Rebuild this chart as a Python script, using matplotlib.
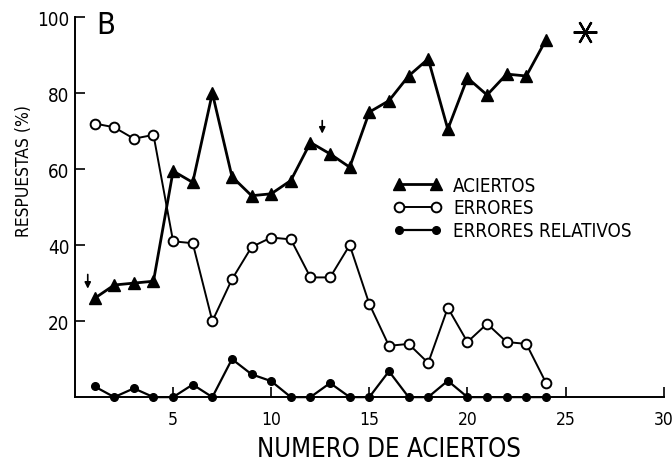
import matplotlib
matplotlib.use("Agg")
import matplotlib.pyplot as plt
import numpy as np

plt.rcParams['font.family'] = ['DejaVu Sans']
plt.rcParams['font.stretch'] = 'condensed'

# numero de aciertos (sesiones)
sesiones = np.arange(1, 25)
aciertos = [26, 29.5, 30, 30.5, 59.5, 56.5, 80, 58, 53, 53.5, 57, 67,
            64, 60.5, 75, 78, 84.5, 89, 70.5, 84, 79.5, 85, 84.5, 94]
errores = [72, 71, 68, 69, 41, 40.5, 20, 31, 39.5, 42, 41.5, 31.5,
           31.5, 40, 24.5, 13.5, 14, 9, 23.5, 14.5, 19.3, 14.5, 14, 3.8]
errores_rel = [2.8, 0, 2.3, 0, 0, 3.3, 0, 10, 6, 4.2, 0, 0,
               3.7, 0, 0, 6.8, 0, 0, 4.3, 0, 0, 0, 0, 0]

x_ticks = [5, 10, 15, 20, 25, 30]
y_ticks = [20, 40, 60, 80, 100]

# anotaciones: flechas (x, y_inicio, y_fin), asterisco, letra del panel
flechas = [(0.65, 33, 27.8), (12.6, 73.5, 68.6)]
asterisco = (26.0, 96.0)
panel = (1.1, 98.0)

fig = plt.figure(figsize=(6.72, 4.64), dpi=100)
ax = fig.add_axes([0.1116, 0.142, 0.876, 0.819])

ax.plot(sesiones, aciertos, color='black', lw=2.0, marker='^', ms=9,
        label='ACIERTOS')
ax.plot(sesiones, errores, color='black', lw=1.4, marker='o', ms=7,
        mfc='white', mec='black', mew=1.4, label='ERRORES')
ax.plot(sesiones, errores_rel, color='black', lw=1.6, marker='o', ms=5.5,
        label='ERRORES RELATIVOS', clip_on=False)

for fx, y0, y1 in flechas:
    ax.annotate('', xy=(fx, y1), xytext=(fx, y0),
                arrowprops=dict(arrowstyle='-|>', color='black', lw=1.2,
                                mutation_scale=9))

ax.plot(*asterisco, marker=(6, 2, 90), ms=17, mew=1.6, color='black')
ax.text(panel[0], panel[1], 'B', fontsize=22, va='center', ha='left')

ax.set_xlim(0, 30)
ax.set_ylim(0, 100)
ax.set_xticks(x_ticks)
ax.set_yticks(y_ticks)
ax.tick_params(direction='in', length=7, width=1.2)
ax.tick_params(axis='y', pad=4, labelsize=13.5)
ax.tick_params(axis='x', pad=9, labelsize=12.5)
for s in ['top', 'right']:
    ax.spines[s].set_visible(False)
for s in ['left', 'bottom']:
    ax.spines[s].set_linewidth(1.4)

ax.set_xlabel('NUMERO DE ACIERTOS', fontsize=18.5)
ax.set_ylabel('RESPUESTAS (%)', fontsize=12.5)
ax.xaxis.set_label_coords(0.534, -0.102)
ax.yaxis.set_label_coords(-0.071, 0.597)

ax.legend(loc='upper left', bbox_to_anchor=(0.54, 0.583), frameon=False,
          fontsize=13.5, numpoints=2, handlelength=2.6, handletextpad=0.6,
          labelspacing=0.2, borderpad=0, borderaxespad=0)

fig.savefig('out.png', dpi=100)
